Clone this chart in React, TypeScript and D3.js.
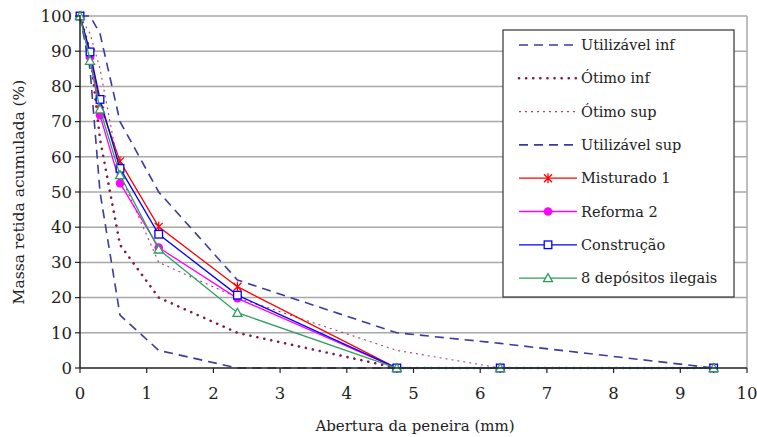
import React from "react";
import * as d3 from "d3";

const sieves = [0, 0.15, 0.3, 0.6, 1.18, 2.36, 4.75, 6.3, 9.5];

const utilInf = [100, 85, 50, 15, 5, 0, 0, 0, 0];
const otimoInf = [100, 90, 65, 35, 20, 10, 0, 0, 0];
const otimoSup = [100, 95, 85, 55, 30, 20, 5, 0, 0];
const utilSup = [100, 100, 95, 70, 50, 25, 10, 7, 0];

const misturado = [100, 89, 75, 58.7, 40.1, 23.1, 0, 0, 0];
const reforma = [100, 88.3, 71.8, 52.5, 34.2, 19.8, 0, 0, 0];
const construcao = [100, 89.8, 76.3, 56.7, 38.0, 20.7, 0, 0, 0];
const depositos = [100, 87.3, 73.5, 54.8, 33.7, 15.7, 0, 0, 0];

const xTicks = [0, 1, 2, 3, 4, 5, 6, 7, 8, 9, 10];
const yTicks = [0, 10, 20, 30, 40, 50, 60, 70, 80, 90, 100];

const legendLabels = [
  "Utilizável inf",
  "Ótimo inf",
  "Ótimo sup",
  "Utilizável sup",
  "Misturado 1",
  "Reforma 2",
  "Construção",
  "8 depósitos ilegais",
];

type Style = {
  color: string;
  width: number;
  dash?: string;
  cap?: string;
  marker?: "star" | "circle" | "square" | "triangle";
};

const styles: Style[] = [
  { color: "#3a3aa0", width: 1.6, dash: "9,6" },
  { color: "#801848", width: 2.6, dash: "0.1,7", cap: "round" },
  { color: "#a0406c", width: 1.1, dash: "2,4" },
  { color: "#3a3aa0", width: 1.6, dash: "9,6" },
  { color: "#ff0000", width: 1.3, marker: "star" },
  { color: "#ff00ff", width: 1.3, marker: "circle" },
  { color: "#0000ff", width: 1.3, marker: "square" },
  { color: "#2e9e5e", width: 1.3, marker: "triangle" },
];

const seriesData = [utilInf, otimoInf, otimoSup, utilSup, misturado, reforma, construcao, depositos];

const FONT = "'DejaVu Serif', serif";

function Marker({ kind, x, y, color }: { kind?: string; x: number; y: number; color: string }) {
  if (kind === "star") {
    const s = 4;
    return (
      <path
        d={`M${x - s},${y - s}L${x + s},${y + s}M${x - s},${y + s}L${x + s},${y - s}M${x},${y - s - 1}L${x},${y + s + 1}`}
        stroke={color}
        strokeWidth={1.3}
        fill="none"
      />
    );
  }
  if (kind === "circle") return <circle cx={x} cy={y} r={4.3} fill={color} />;
  if (kind === "square")
    return <rect x={x - 3.8} y={y - 3.8} width={7.6} height={7.6} fill="white" stroke={color} strokeWidth={1.3} />;
  if (kind === "triangle") {
    const s = 4.5;
    return (
      <path
        d={`M${x},${y - s}L${x + s},${y + s * 0.8}L${x - s},${y + s * 0.8}Z`}
        fill="white"
        stroke={color}
        strokeWidth={1.3}
      />
    );
  }
  return null;
}

export default function App() {
  const W = 757;
  const H = 437;
  const x = d3.scaleLinear().domain([0, 10]).range([80, 747]);
  const y = d3.scaleLinear().domain([0, 100]).range([368, 16]);
  const line = d3
    .line<[number, number]>()
    .x((d) => x(d[0]))
    .y((d) => y(d[1]));

  const legX = 503;
  const legY = 30;
  const legW = 231;
  const legH = 267;
  const rowY = (i: number) => 45 + i * 33.3;

  return (
    <svg
      width={W}
      height={H}
      style={{ position: "absolute", left: 0, top: 0, background: "white", fontFamily: FONT }}
    >
      <rect x={0} y={0} width={W} height={H} fill="white" />
      {yTicks
        .filter((t) => t > 0)
        .map((t) => (
          <line key={t} x1={x(0)} x2={x(10)} y1={y(t)} y2={y(t)} stroke="#a8a8a8" strokeWidth={1.5} />
        ))}
      <line x1={x(10)} x2={x(10)} y1={y(100)} y2={y(0)} stroke="#a8a8a8" strokeWidth={1.5} />

      {seriesData.map((vals, i) => {
        const st = styles[i];
        const pts = sieves.map((s, j) => [s, vals[j]] as [number, number]);
        return (
          <g key={i}>
            <path
              d={line(pts) || ""}
              fill="none"
              stroke={st.color}
              strokeWidth={st.width}
              strokeDasharray={st.dash}
              strokeLinecap={(st.cap as any) || "butt"}
            />
            {st.marker &&
              pts.map((p, j) => (
                <Marker key={j} kind={st.marker} x={x(p[0])} y={y(p[1])} color={st.color} />
              ))}
          </g>
        );
      })}

      <line x1={x(0)} x2={x(0)} y1={y(100) - 1} y2={y(0)} stroke="#222" strokeWidth={1.5} />
      <line x1={x(0)} x2={x(10)} y1={y(0)} y2={y(0)} stroke="#222" strokeWidth={1.5} />
      {yTicks.map((t) => (
        <g key={t}>
          <line x1={x(0) - 5} x2={x(0)} y1={y(t)} y2={y(t)} stroke="#222" strokeWidth={1.2} />
          <text x={72} y={y(t)} dy="0.35em" textAnchor="end" fontSize={16.5} fill="#222">
            {t}
          </text>
        </g>
      ))}
      {xTicks.map((t) => (
        <g key={t}>
          <line x1={x(t)} x2={x(t)} y1={y(0)} y2={y(0) + 5} stroke="#222" strokeWidth={1.2} />
          <text x={x(t)} y={399} textAnchor="middle" fontSize={16.5} fill="#222">
            {t}
          </text>
        </g>
      ))}
      <text x={415} y={431} textAnchor="middle" fontSize={15} fill="#222">
        Abertura da peneira (mm)
      </text>
      <text transform={`translate(24,192) rotate(-90)`} textAnchor="middle" fontSize={15.5} fill="#222">
        Massa retida acumulada (%)
      </text>

      <rect x={legX} y={legY} width={legW} height={legH} fill="white" stroke="#333" strokeWidth={1.2} />
      {legendLabels.map((lab, i) => {
        const st = styles[i];
        const ly = rowY(i);
        return (
          <g key={lab}>
            <line
              x1={519}
              x2={577}
              y1={ly}
              y2={ly}
              stroke={st.color}
              strokeWidth={st.width}
              strokeDasharray={st.dash}
              strokeLinecap={(st.cap as any) || "butt"}
            />
            {st.marker && <Marker kind={st.marker} x={548} y={ly} color={st.color} />}
            <text x={581} y={ly} dy="0.35em" fontSize={14.5} fill="#222">
              {lab}
            </text>
          </g>
        );
      })}
    </svg>
  );
}
